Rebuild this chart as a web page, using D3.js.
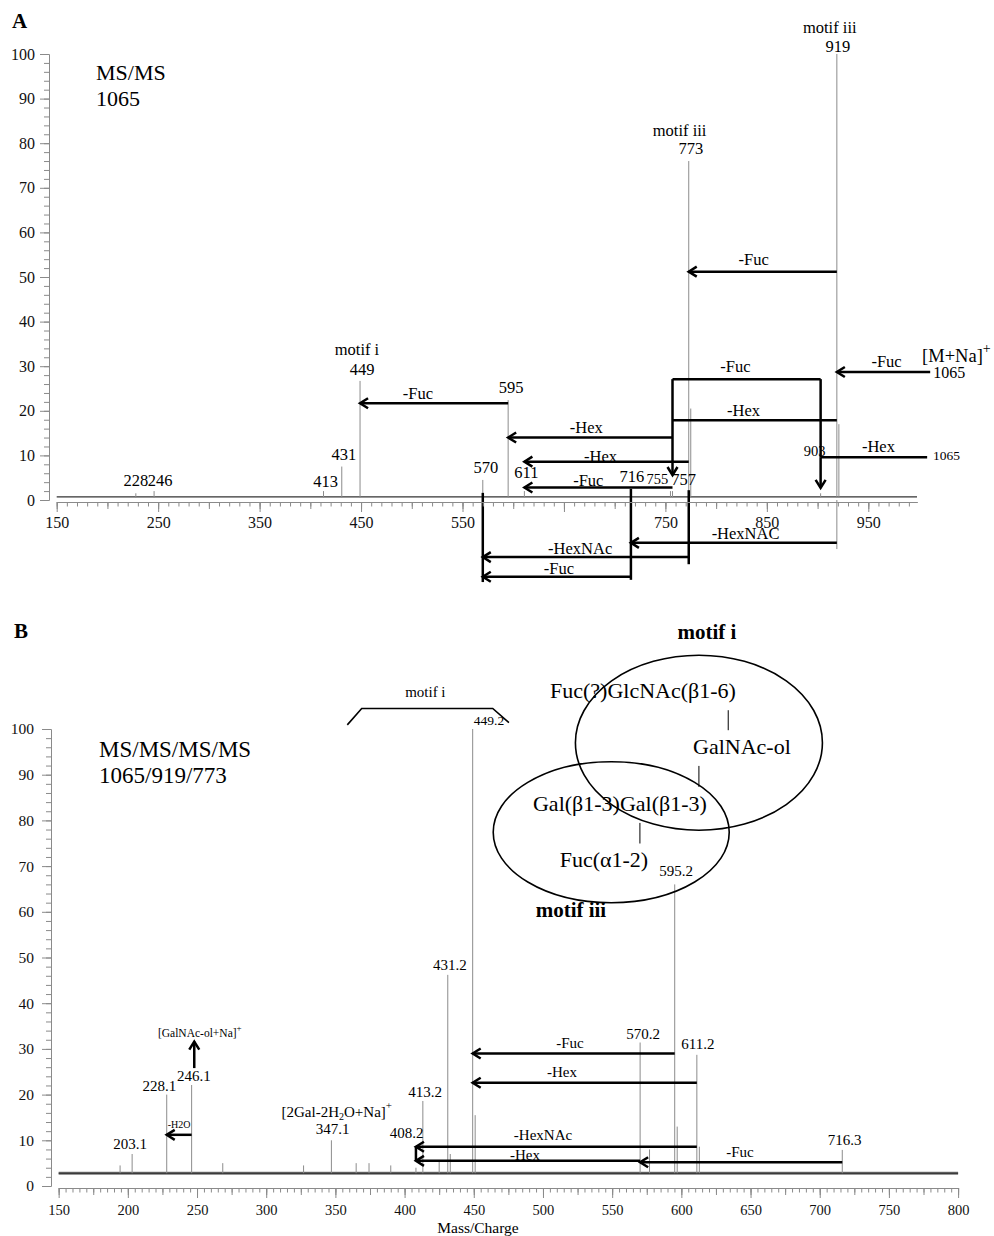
<!DOCTYPE html>
<html>
<head>
<meta charset="utf-8">
<script src="https://cdn.jsdelivr.net/npm/d3@7"></script>
<style>
  body { margin: 0; background: #fff; }
  svg { display: block; }
</style>
</head>
<body>
<div id="wrapper"></div>
<script>
const FONT = '"Liberation Serif", "Times New Roman", serif'

// ---------- panel A : MS/MS of 1065 ----------
const mzA  = [228, 246, 413, 431, 449, 570, 595, 611, 716, 755, 757, 773, 775, 903, 919, 921]
const intA = [1.5, 2, 2, 7.5, 26.7, 4.5, 22.4, 2, 2, 2, 2, 76, 20.5, 1.5, 100, 17]
const xTickLabelsA = [150, 250, 350, 450, 550, 750, 850, 950]

const peakLabelsA = [
  {mz: 228, level: 3.1, text: "228"},
  {mz: 252, level: 3.1, text: "246"},
  {mz: 415, level: 3.0, text: "413"},
  {mz: 433, level: 9.0, text: "431"},
  {mz: 446, level: 32.5, text: "motif i"},
  {mz: 451, level: 28, text: "449"},
  {mz: 573, level: 6.0, text: "570"},
  {mz: 598, level: 24, text: "595"},
  {mz: 613, level: 4.9, text: "611"},
  {mz: 717, level: 4.1, text: "716"},
  {mz: 742, level: 3.6, text: "755", small: true},
  {mz: 768, level: 3.4, text: "757"},
  {mz: 764, level: 81.6, text: "motif iii"},
  {mz: 775, level: 77.5, text: "773"},
  {mz: 912, level: 104.8, text: "motif iii"},
  {mz: 920, level: 100.5, text: "919"},
  {mz: 897, level: 9.9, text: "903", small: true}
]

// neutral losses: from/to in m/z, level in % intensity
const lossesA = [
  {from: 1011, to: 919, level: 28.7, text: "-Fuc", at: 968, textLevel: 29.8, head: true},
  {from: 1008, to: 903, level: 9.6, text: "-Hex", at: 960, textLevel: 10.8, head: false},
  {from: 903, to: 757, level: 27.1, text: "-Fuc", at: 819, textLevel: 28.8, head: false},
  {from: 919, to: 757, level: 17.9, text: "-Hex", at: 827, textLevel: 18.8, head: false},
  {from: 919, to: 773, level: 51.2, text: "-Fuc", at: 837, textLevel: 52.7, head: true},
  {from: 757, to: 595, level: 14, text: "-Hex", at: 672, textLevel: 15.1, head: true},
  {from: 773, to: 611, level: 8.6, text: "-Hex", at: 686, textLevel: 8.6, head: true},
  {from: 757, to: 611, level: 2.8, text: "-Fuc", at: 674, textLevel: 3.1, head: true},
  {from: 595, to: 449, level: 21.7, text: "-Fuc", at: 506, textLevel: 22.6, head: true},
  {from: 919, to: 716, level: -9.6, text: "-HexNAC", at: 829, textLevel: -8.7, head: true},
  {from: 773, to: 570, level: -12.8, text: "-HexNAc", at: 666, textLevel: -12.1, head: true},
  {from: 716, to: 570, level: -17.2, text: "-Fuc", at: 645, textLevel: -16.6, head: true}
]
const stemsA = [
  {mz: 903, top: 27.1, bottom: 9.6, head: false},
  {mz: 903, top: 9.6, bottom: 2.7, head: true},
  {mz: 757, top: 27.1, bottom: 5.6, head: true},
  {mz: 773, top: 2.2, bottom: -14.4, head: false},
  {mz: 716, top: 2.5, bottom: -17.9, head: false},
  {mz: 570, top: 1.6, bottom: -18.4, head: false}
]

// ---------- panel B : MS/MS/MS/MS 1065/919/773 ----------
const mzB  = [194.4, 203.1, 228.1, 246.1, 268.6, 327, 347.1, 365, 374.3, 390, 408.2, 413.2, 425, 431.2, 433, 449.2, 451, 570.2, 577, 595.2, 597, 611.2, 613, 716.3]
const intB = [4.5, 7, 20, 22.1, 5, 4.5, 10, 5, 5, 4.5, 4, 18.6, 5.5, 46.2, 7, 100, 15.5, 31.4, 8, 66, 13, 28.7, 8.6, 7.9]
const xTickLabelsB = d3.range(150, 801, 50)

const peakLabelsB = [
  {mz: 201.6, level: 8.1, text: "203.1"},
  {mz: 222.7, level: 20.8, text: "228.1"},
  {mz: 247.8, level: 23.0, text: "246.1"},
  {mz: 348, level: 11.4, text: "347.1"},
  {mz: 401.5, level: 10.5, text: "408.2"},
  {mz: 414.8, level: 19.5, text: "413.2"},
  {mz: 432.8, level: 47.2, text: "431.2"},
  {mz: 572.3, level: 32.2, text: "570.2"},
  {mz: 596.3, level: 67.8, text: "595.2"},
  {mz: 612, level: 30, text: "611.2"},
  {mz: 718, level: 9.0, text: "716.3"}
]

const lossesB = [
  {from: 595.2, to: 449.2, level: 29.0, text: "-Fuc", at: 519.5, textLevel: 30.2, head: true},
  {from: 611.2, to: 449.2, level: 22.6, text: "-Hex", at: 513.7, textLevel: 23.9, head: true},
  {from: 611.2, to: 408.2, level: 8.6, text: "-HexNAc", at: 500, textLevel: 10.1, head: true},
  {from: 570.2, to: 408.2, level: 5.5, text: "-Hex", at: 487, textLevel: 5.7, head: true},
  {from: 716.3, to: 570.2, level: 5.2, text: "-Fuc", at: 642.4, textLevel: 6.4, head: true},
  {from: 246.1, to: 228.1, level: 11.2, text: "-H2O", at: 237, textLevel: 12.7, head: true, small: true}
]
const stemsB = [
  {mz: 408.2, top: 8.6, bottom: 5.5, head: false}
]

// ---------- layout ----------
const width = 994
const height = 1236

const svg = d3.select("#wrapper")
  .append("svg")
  .attr("width", width)
  .attr("height", height)
  .style("font-family", FONT)

svg.append("rect").attr("width", width).attr("height", height).attr("fill", "#fff")

const xA = d3.scaleLinear().domain([150, 998]).range([56.7, 917])
const yA = d3.scaleLinear().domain([0, 100]).range([500, 54])
const xB = d3.scaleLinear().domain([150, 800]).range([58.65, 958.1])
const yB = d3.scaleLinear().domain([0, 100]).range([1186, 729])

const AXIS_GREY = "#8a8a8a"

function styleAxis(g, size) {
  g.attr("font-family", FONT).attr("font-size", size)
  g.selectAll(".domain").attr("stroke", AXIS_GREY)
  g.selectAll(".tick line").attr("stroke", AXIS_GREY)
  g.selectAll(".tick text").attr("fill", "#111")
}

function yAxis(y, xPos, pad, size) {
  const minor = svg.append("g").attr("transform", `translate(${xPos},0)`)
    .call(d3.axisLeft(y).tickValues(d3.range(0, 101, 2)).tickSize(5).tickSizeOuter(0).tickFormat(""))
  styleAxis(minor, size)
  const major = svg.append("g").attr("transform", `translate(${xPos},0)`)
    .call(d3.axisLeft(y).tickValues(d3.range(0, 101, 10)).tickSize(9).tickSizeOuter(0).tickPadding(pad))
  styleAxis(major, size)
}

function xAxis(x, yPos, minorStep, midStep, labels, labelStep, pad, size) {
  const [d0, d1] = x.domain()
  const minor = svg.append("g").attr("transform", `translate(0,${yPos})`)
    .call(d3.axisBottom(x).tickValues(d3.range(d0, d1 + 0.1, minorStep)).tickSize(4.5).tickSizeOuter(0).tickFormat(""))
  styleAxis(minor, size)
  const mid = svg.append("g").attr("transform", `translate(0,${yPos})`)
    .call(d3.axisBottom(x).tickValues(d3.range(d0, d1 + 0.1, midStep)).tickSize(7).tickSizeOuter(0).tickFormat(""))
  styleAxis(mid, size)
  const major = svg.append("g").attr("transform", `translate(0,${yPos})`)
    .call(d3.axisBottom(x).tickValues(d3.range(d0, d1 + 0.1, labelStep)).tickSize(10).tickSizeOuter(0)
      .tickPadding(pad).tickFormat(d => labels.includes(d) ? d : ""))
  styleAxis(major, size)
}

function arrowHead(g, tx, ty, dir) {
  const L = 8, W = 5
  let pts
  if (dir === "left") pts = [[tx + L, ty - W], [tx, ty], [tx + L, ty + W]]
  if (dir === "down") pts = [[tx - W, ty - L], [tx, ty], [tx + W, ty - L]]
  if (dir === "up") pts = [[tx - W, ty + L], [tx, ty], [tx + W, ty + L]]
  g.append("path")
    .attr("d", d3.line()(pts))
    .attr("fill", "none")
    .attr("stroke", "#000")
    .attr("stroke-width", 2.5)
}

function drawPeaks(g, x, y, mz, inten, base) {
  g.selectAll(null)
    .data(d3.zip(mz, inten))
    .join("line")
    .attr("x1", d => x(d[0]))
    .attr("x2", d => x(d[0]))
    .attr("y1", y(base))
    .attr("y2", d => y(d[1]))
    .attr("stroke", "#8c8c8c")
    .attr("stroke-width", 1)
}

function drawLosses(g, x, y, losses, stems, size) {
  losses.forEach(d => {
    g.append("line")
      .attr("x1", x(d.from)).attr("x2", x(d.to))
      .attr("y1", y(d.level)).attr("y2", y(d.level))
      .attr("stroke", "#000").attr("stroke-width", 2.5)
    if (d.head) arrowHead(g, x(d.to), y(d.level), "left")
    g.append("text")
      .attr("x", x(d.at)).attr("y", y(d.textLevel))
      .attr("text-anchor", "middle")
      .attr("font-size", d.small ? 10 : size)
      .text(d.text)
  })
  stems.forEach(d => {
    g.append("line")
      .attr("x1", x(d.mz)).attr("x2", x(d.mz))
      .attr("y1", y(d.top)).attr("y2", y(d.bottom))
      .attr("stroke", "#000").attr("stroke-width", 2.5)
    if (d.head) arrowHead(g, x(d.mz), y(d.bottom), "down")
  })
}

function drawPeakLabels(g, x, y, labels, size, smallSize) {
  g.selectAll(null)
    .data(labels)
    .join("text")
    .attr("x", d => x(d.mz))
    .attr("y", d => y(d.level))
    .attr("text-anchor", "middle")
    .attr("font-size", d => d.small ? smallSize : size)
    .text(d => d.text)
}

// ================= PANEL A =================
const gA = svg.append("g")

svg.append("text").attr("x", 12).attr("y", 28)
  .attr("font-size", 21).attr("font-weight", "bold").text("A")

yAxis(yA, 49, 5, 16)
xAxis(xA, 502, 10, 50, xTickLabelsA, 100, 5, 16)

// baseline noise
gA.append("line")
  .attr("x1", xA(150)).attr("x2", xA(998))
  .attr("y1", yA(0.7)).attr("y2", yA(0.7))
  .attr("stroke", "#333").attr("stroke-width", 1.4)

drawPeaks(gA, xA, yA, mzA, intA, 0.5)

// 919 line running under the axis
gA.append("line")
  .attr("x1", xA(919)).attr("x2", xA(919))
  .attr("y1", yA(0)).attr("y2", yA(-11))
  .attr("stroke", "#8c8c8c").attr("stroke-width", 1)

drawLosses(gA, xA, yA, lossesA, stemsA, 16.5)
drawPeakLabels(gA, xA, yA, peakLabelsA, 16.5, 14.5)

gA.append("text").attr("x", 96).attr("y", 80).attr("font-size", 22).text("MS/MS")
gA.append("text").attr("x", 96).attr("y", 106).attr("font-size", 22).text("1065")

const mna = gA.append("text").attr("x", xA(1003)).attr("y", yA(31)).attr("font-size", 18.5)
mna.append("tspan").text("[M+Na]")
mna.append("tspan").attr("dy", -9).attr("font-size", 14).text("+")
gA.append("text").attr("x", xA(1014)).attr("y", yA(27.4)).attr("font-size", 16).text("1065")
gA.append("text").attr("x", xA(1013.7)).attr("y", yA(9.0)).attr("font-size", 13.5).text("1065")

// ================= PANEL B =================
const gB = svg.append("g")

svg.append("text").attr("x", 14).attr("y", 638)
  .attr("font-size", 21).attr("font-weight", "bold").text("B")

yAxis(yB, 51, 8, 15.5)
xAxis(xB, 1188, 5, 25, xTickLabelsB, 50, 7, 14.5)

// baseline noise band
gB.append("line")
  .attr("x1", xB(150)).attr("x2", xB(800))
  .attr("y1", yB(2.8)).attr("y2", yB(2.8))
  .attr("stroke", "#777").attr("stroke-width", 3)
gB.append("line")
  .attr("x1", xB(150)).attr("x2", xB(800))
  .attr("y1", yB(2.8)).attr("y2", yB(2.8))
  .attr("stroke", "#222").attr("stroke-width", 1)

drawPeaks(gB, xB, yB, mzB, intB, 2.8)
drawLosses(gB, xB, yB, lossesB, stemsB, 15)
drawPeakLabels(gB, xB, yB, peakLabelsB, 15, 15)

// [GalNAc-ol+Na]+ arrow from 246.1
gB.append("line")
  .attr("x1", xB(248)).attr("x2", xB(248))
  .attr("y1", yB(25.8)).attr("y2", yB(31.6))
  .attr("stroke", "#000").attr("stroke-width", 2.5)
arrowHead(gB, xB(248), yB(31.6), "up")
const gal = gB.append("text").attr("x", xB(252)).attr("y", yB(32.5))
  .attr("text-anchor", "middle").attr("font-size", 11.5)
gal.append("tspan").text("[GalNAc-ol+Na]")
gal.append("tspan").attr("dy", -6).attr("font-size", 9).text("+")

const gal2 = gB.append("text").attr("x", xB(351)).attr("y", yB(15))
  .attr("text-anchor", "middle").attr("font-size", 15)
gal2.append("tspan").text("[2Gal-2H")
gal2.append("tspan").attr("dy", 3).attr("font-size", 10).text("2")
gal2.append("tspan").attr("dy", -3).text("O+Na]")
gal2.append("tspan").attr("dy", -8).attr("font-size", 11).text("+")

// motif i bracket over 449.2
const bracket = [[358.6, 100.9], [369, 104.5], [463.7, 104.5], [475.4, 101.4]]
gB.append("path")
  .attr("d", d3.line().x(d => xB(d[0])).y(d => yB(d[1]))(bracket))
  .attr("fill", "none").attr("stroke", "#000").attr("stroke-width", 1.6)
gB.append("text").attr("x", xB(415)).attr("y", yB(107)).attr("text-anchor", "middle")
  .attr("font-size", 15).text("motif i")
gB.append("text").attr("x", xB(461)).attr("y", yB(100.9)).attr("text-anchor", "middle")
  .attr("font-size", 13.5).text("449.2")

gB.append("text").attr("x", 99).attr("y", 757).attr("font-size", 23).text("MS/MS/MS/MS")
gB.append("text").attr("x", 99).attr("y", 783).attr("font-size", 23).text("1065/919/773")

// structure diagram, anchored in data space
const diag = gB.append("g")
  .attr("transform", `translate(${xB(612.7)},${yB(97)})`)
diag.append("ellipse").attr("cx", 0).attr("cy", 0).attr("rx", 123.5).attr("ry", 87.5)
  .attr("fill", "none").attr("stroke", "#000").attr("stroke-width", 1.6)
diag.append("ellipse").attr("cx", -87.7).attr("cy", 89.5).attr("rx", 118).attr("ry", 70.5)
  .attr("fill", "none").attr("stroke", "#000").attr("stroke-width", 1.6)
const diagText = [
  {x: 8, y: -104, text: "motif i", bold: true},
  {x: -56, y: -44.5, text: "Fuc(?)GlcNAc(β1-6)"},
  {x: 43, y: 11.5, text: "GalNAc-ol"},
  {x: -79, y: 68.5, text: "Gal(β1-3)Gal(β1-3)"},
  {x: -95, y: 124, text: "Fuc(α1-2)"},
  {x: -128, y: 174.5, text: "motif iii", bold: true}
]
diag.selectAll(null).data(diagText).join("text")
  .attr("x", d => d.x).attr("y", d => d.y)
  .attr("text-anchor", "middle")
  .attr("font-size", d => d.bold ? 21 : 22)
  .attr("font-weight", d => d.bold ? "bold" : "normal")
  .text(d => d.text)
const links = [[29.3, -32.5, -12.5], [0, 23.2, 44.2], [-59, 80.2, 100.8]]
diag.selectAll(null).data(links).join("line")
  .attr("x1", d => d[0]).attr("x2", d => d[0])
  .attr("y1", d => d[1]).attr("y2", d => d[2])
  .attr("stroke", "#000").attr("stroke-width", 1)

svg.append("text").attr("x", 478).attr("y", 1233).attr("text-anchor", "middle")
  .attr("font-size", 15.5).text("Mass/Charge")
</script>
</body>
</html>
